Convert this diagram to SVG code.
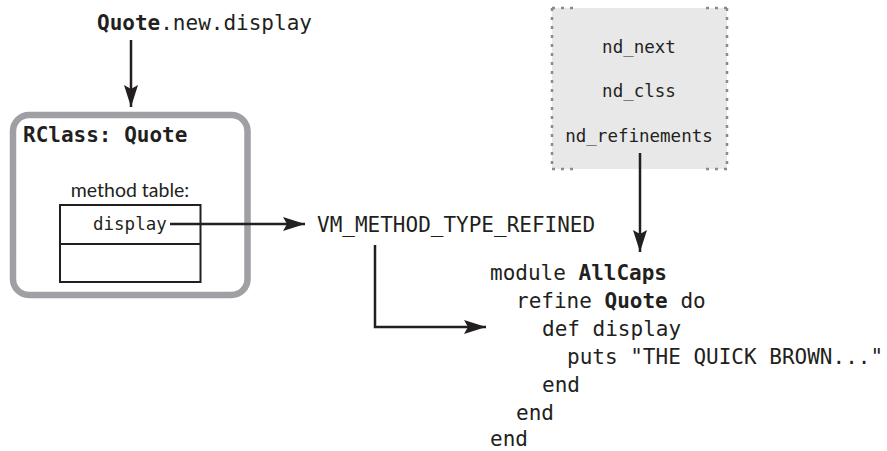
<svg xmlns="http://www.w3.org/2000/svg" width="887" height="451" viewBox="0 0 887 451">
<defs>
<marker id="ah" markerUnits="userSpaceOnUse" markerWidth="24" markerHeight="14" refX="22" refY="7" orient="auto">
<path d="M0,0 L22,7 L0,14 L4,7 Z" fill="#231f20"/>
</marker>
<style>
.mono{font-family:"DejaVu Sans Mono","Liberation Mono",monospace;fill:#231f20}
.code{font-size:21px}
.small{font-size:17.5px}
.b{font-weight:bold}
.sans{font-family:Lato,"Open Sans",sans-serif;fill:#231f20;font-size:19.5px}
.conn{stroke:#231f20;stroke-width:2.5;fill:none}
.dots{stroke:#8a8a8a;stroke-width:2.5;stroke-dasharray:3 6;fill:none}
</style>
</defs>
<rect width="887" height="451" fill="#ffffff"/>

<g id="call">
<text class="mono code" x="97" y="30"><tspan class="b">Quote</tspan>.new.display</text>
</g>

<g id="rclass">
<rect x="13" y="115" width="234.5" height="180" rx="16" fill="#ffffff" stroke="#a0a0a4" stroke-width="6.5"/>
<text class="mono code b" x="23" y="142">RClass: Quote</text>
<text class="sans" x="130" y="197" text-anchor="middle">method table:</text>
<rect x="60" y="205" width="140.5" height="77" fill="#ffffff" stroke="#231f20" stroke-width="2"/>
<line x1="60" y1="244" x2="200.5" y2="244" stroke="#231f20" stroke-width="2"/>
<text class="mono small" x="93" y="230">display</text>
</g>

<g id="vmtype">
<text class="mono code" x="317" y="232">VM_METHOD_TYPE_REFINED</text>
</g>

<g id="node">
<rect x="552" y="8" width="175" height="161" fill="#e8e8e8"/>
<line class="dots" x1="552" y1="8" x2="552" y2="169"/>
<line class="dots" x1="727" y1="8" x2="727" y2="169"/>
<line class="dots" x1="552" y1="8" x2="575" y2="8"/>
<line class="dots" x1="706" y1="8" x2="727" y2="8"/>
<line class="dots" x1="552" y1="169" x2="575" y2="169"/>
<line class="dots" x1="706" y1="169" x2="727" y2="169"/>
<text class="mono small" x="639" y="53" text-anchor="middle">nd_next</text>
<text class="mono small" x="639" y="97" text-anchor="middle">nd_clss</text>
<text class="mono small" x="639" y="142" text-anchor="middle">nd_refinements</text>
</g>

<g id="code">
<text class="mono code" x="490" y="280">module <tspan class="b">AllCaps</tspan></text>
<text class="mono code" x="516" y="308">refine <tspan class="b">Quote</tspan> do</text>
<text class="mono code" x="542" y="336">def display</text>
<text class="mono code" x="567" y="364">puts "THE QUICK BROWN..."</text>
<text class="mono code" x="542" y="392">end</text>
<text class="mono code" x="516" y="420">end</text>
<text class="mono code" x="490" y="446">end</text>
</g>

<g id="connectors">
<line class="conn" x1="131" y1="40" x2="131" y2="107" marker-end="url(#ah)"/>
<line class="conn" x1="170" y1="224" x2="305" y2="224" marker-end="url(#ah)"/>
<polyline class="conn" points="375,245 375,327 486,327" marker-end="url(#ah)"/>
<line class="conn" x1="640" y1="153" x2="640" y2="252" marker-end="url(#ah)"/>
</g>
</svg>
